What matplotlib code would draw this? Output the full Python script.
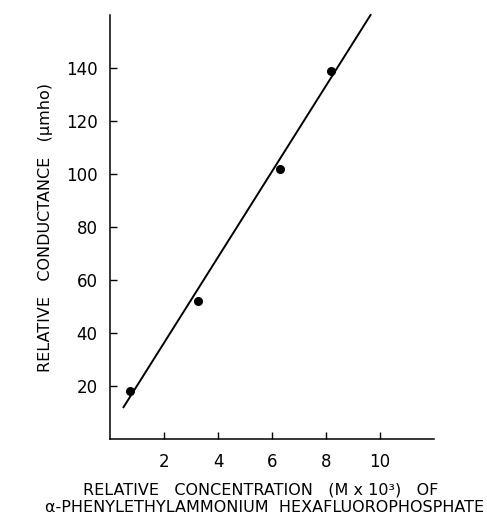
import matplotlib.pyplot as plt

# values
conc = [0.73, 3.25, 6.3, 8.2]
cond = [18, 52, 102, 139]
fit_x = [0.5, 9.65]
fit_y = [12, 160]
xticks = [2, 4, 6, 8, 10]
yticks = [20, 40, 60, 80, 100, 120, 140]

plt.rcParams['font.family'] = ['DejaVu Sans']

fig = plt.figure(figsize=(4.87, 5.26), dpi=100)
ax = fig.add_axes([110 / 487, 1 - 439 / 526, 324 / 487, 424 / 526])

ax.plot(fit_x, fit_y, color="black", linewidth=1.4, clip_on=False)
ax.plot(conc, cond, "o", color="black", markersize=5.5, clip_on=False)

ax.set_xlim(0, 12)
ax.set_ylim(0, 160)
ax.set_xticks(xticks)
ax.set_yticks(yticks)
ax.tick_params(direction="in", length=5, width=1, labelsize=12)
ax.tick_params(axis="x", pad=10)
ax.tick_params(axis="y", pad=9)
for side in ["top", "right"]:
    ax.spines[side].set_visible(False)
for side in ["left", "bottom"]:
    ax.spines[side].set_linewidth(1.1)

fig.text(46 / 487, 1 - 228 / 526, "RELATIVE   CONDUCTANCE   (\u03bcmho)",
         rotation=90, ha="center", va="center", fontsize=11.5)
fig.text(261 / 487, 1 - 490 / 526, "RELATIVE   CONCENTRATION   (M x 10\u00b3)   OF",
         ha="center", va="center", fontsize=11.5)
fig.text(265 / 487, 1 - 508 / 526, "\u03b1-PHENYLETHYLAMMONIUM  HEXAFLUOROPHOSPHATE",
         ha="center", va="center", fontsize=11.5)

plt.savefig("out.png", dpi=100)
plt.close()
